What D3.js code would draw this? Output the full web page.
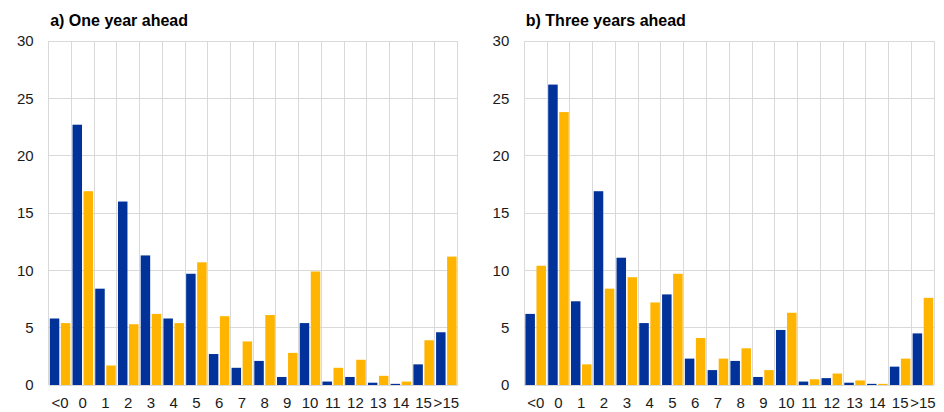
<!DOCTYPE html>
<html>
<head>
<meta charset="utf-8">
<script src="https://cdn.jsdelivr.net/npm/d3@7"></script>
<style>
  html, body { margin: 0; padding: 0; background: #fff; }
  svg { display: block; font-family: "Liberation Sans", Arial, sans-serif; }
</style>
</head>
<body>
<svg id="chart" width="944" height="412"></svg>
<script>
const categories = ["<0","0","1","2","3","4","5","6","7","8","9","10","11","12","13","14","15",">15"];
const seriesNames = ["blue", "orange"];
const yTicks = [0, 5, 10, 15, 20, 25, 30];

const titleA = "a) One year ahead";
const blueA   = [5.8, 22.7, 8.4, 16.0, 11.3, 5.8, 9.7, 2.7, 1.5, 2.1, 0.7, 5.4, 0.3, 0.7, 0.2, 0.1, 1.8, 4.6];
const orangeA = [5.4, 16.9, 1.7, 5.3, 6.2, 5.4, 10.7, 6.0, 3.8, 6.1, 2.8, 9.9, 1.5, 2.2, 0.8, 0.3, 3.9, 11.2];

const titleB = "b) Three years ahead";
const blueB   = [6.2, 26.2, 7.3, 16.9, 11.1, 5.4, 7.9, 2.3, 1.3, 2.1, 0.7, 4.8, 0.3, 0.6, 0.2, 0.1, 1.6, 4.5];
const orangeB = [10.4, 23.8, 1.8, 8.4, 9.4, 7.2, 9.7, 4.1, 2.3, 3.2, 1.3, 6.3, 0.5, 1.0, 0.4, 0.1, 2.3, 7.6];

const colors = { blue: "#003299", orange: "#FFB400" };

const svg = d3.select("#chart");

function drawPanel(left, right, title, blue, orange) {
  const top = 41, bottom = 385;
  const g = svg.append("g");

  const x = d3.scaleBand().domain(categories).range([left, right]).paddingInner(0).paddingOuter(0);
  const xs = d3.scaleBand().domain(seriesNames).range([0, x.bandwidth()]).paddingInner(0.14).paddingOuter(0.1);
  const y = d3.scaleLinear().domain([0, 30]).range([bottom, top]);

  // horizontal grid
  g.append("g").selectAll("line").data(yTicks).join("line")
    .attr("x1", left).attr("x2", right)
    .attr("y1", d => y(d)).attr("y2", d => y(d))
    .attr("stroke", "#d9d9d9").attr("stroke-width", 1).attr("shape-rendering", "crispEdges");

  // vertical grid at category boundaries
  const bounds = categories.map(c => x(c)).concat([right]);
  g.append("g").selectAll("line").data(bounds).join("line")
    .attr("x1", d => d).attr("x2", d => d)
    .attr("y1", top).attr("y2", bottom)
    .attr("stroke", "#d9d9d9").attr("stroke-width", 1).attr("shape-rendering", "crispEdges");

  // bars
  const rows = categories.map((c, i) => ({ c, blue: blue[i], orange: orange[i] }));
  const grp = g.append("g").selectAll("g").data(rows).join("g")
    .attr("transform", d => `translate(${x(d.c)},0)`);
  grp.selectAll("rect").data(d => seriesNames.map(s => ({ s, v: d[s] }))).join("rect")
    .attr("x", d => xs(d.s))
    .attr("width", xs.bandwidth())
    .attr("y", d => y(d.v))
    .attr("height", d => y(0) - y(d.v))
    .attr("fill", d => colors[d.s]);

  // y axis labels
  const yAxis = d3.axisLeft(y).tickValues(yTicks).tickSize(0).tickPadding(15);
  const ya = g.append("g").attr("transform", `translate(${left},0)`).call(yAxis);
  ya.select(".domain").remove();
  ya.selectAll("text").attr("font-size", 15).attr("fill", "#1a1a1a").attr("font-family", "Liberation Sans, Arial, sans-serif");

  // x axis labels
  const xAxis = d3.axisBottom(x).tickSize(0).tickPadding(12);
  const xa = g.append("g").attr("transform", `translate(0,${bottom})`).call(xAxis);
  xa.select(".domain").remove();
  xa.selectAll("text").attr("font-size", 15).attr("fill", "#1a1a1a").attr("font-family", "Liberation Sans, Arial, sans-serif");

  // title
  g.append("text").attr("x", left + 1.5).attr("y", 26)
    .attr("font-size", 16).attr("font-weight", "bold").attr("fill", "#000")
    .text(title);
}

drawPanel(48.7, 457.7, titleA, blueA, orangeA);
drawPanel(524.3, 934.3, titleB, blueB, orangeB);
</script>
</body>
</html>
